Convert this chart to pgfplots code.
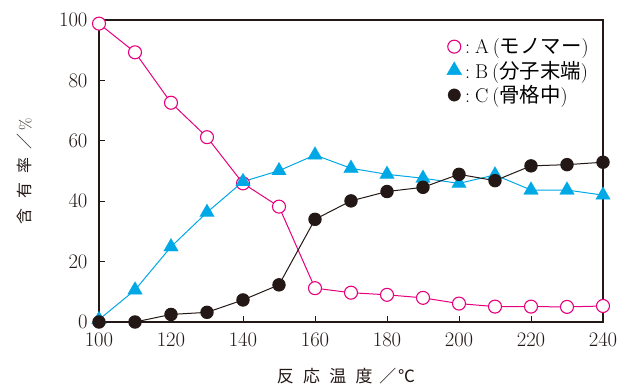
\documentclass[border=0pt]{standalone}
\usepackage{pgfplots}
\pgfplotsset{compat=1.18}
\usepackage{fontspec}
\newfontfamily\jp{Noto Sans CJK JP}
\definecolor{cA}{RGB}{230,0,126}
\definecolor{cB}{RGB}{0,168,230}
\definecolor{cC}{RGB}{35,24,21}
\begin{document}
\begin{tikzpicture}
\begin{axis}[
  scale only axis, width=504bp, height=302bp,
  xmin=100, xmax=240, ymin=0, ymax=100,
  xtick={100,120,...,240}, ytick={0,20,...,100},
  tick align=inside, xtick pos=bottom, ytick pos=left,
  major tick length=6bp,
  axis line style={line width=2.4bp, color=cC},
  tick style={line width=1bp, color=cC},
  every tick label/.style={font=\fontsize{20}{24}\selectfont, color=cC},
  yticklabel style={xshift=-8bp},
  xticklabel style={yshift=-8bp},
  clip=false,
  xlabel={\jp\fontsize{17}{20}\selectfont 反\hspace{0.55em}応\hspace{0.55em}温\hspace{0.55em}度\hspace{0.4em}／\hspace{0.1em}℃},
  ylabel={{\jp\fontsize{16}{20}\selectfont 含\hspace{0.6em}有\hspace{0.6em}率\hspace{0.5em}／}\hspace{0.3em}{\fontsize{16}{20}\selectfont\%}},
  xlabel style={at={(axis description cs:0.49,-0.18)}, anchor=center, color=cC},
  ylabel style={at={(axis description cs:-0.147,0.5)}, anchor=center, rotate=0, color=cC},
  legend style={draw=none, fill=none, at={(axis description cs:0.975,0.945)}, anchor=north east,
    font=\fontsize{20}{22}\selectfont, row sep=3bp, inner sep=0pt,
    nodes={inner sep=1.5bp}},
  legend cell align=left,
]
\coordinate (O) at (rel axis cs:0,0);
\coordinate (T) at (rel axis cs:1,1);
% A
\addplot[color=cA, line width=1bp, mark=*, mark size=6.5bp,
  mark options={fill=white, draw=cA, line width=1.1bp}, forget plot]
  coordinates {(100,98.8) (110,89.3) (120,72.6) (130,61.2) (140,45.9) (150,38.2) (160,11.2)
   (170,9.7) (180,9.0) (190,8.0) (200,6.1) (210,5.1) (220,5.1) (230,5.0) (240,5.3)};
% B
\addplot[color=cB, line width=1bp, mark=triangle*, mark size=8.5bp,
  mark options={fill=cB, draw=cB, line width=0.1bp}, forget plot]
  coordinates {(100,0.8) (110,10.6) (120,24.9) (130,36.3) (140,46.5) (150,50.1) (160,55.3)
   (170,50.9) (180,48.9) (190,47.6) (200,45.9) (210,48.7) (220,43.7) (230,43.7) (240,42.0)};
% C
\addplot[color=cC, line width=1bp, mark=*, mark size=6.2bp,
  mark options={fill=cC, draw=cC}, forget plot]
  coordinates {(100,0) (110,0) (120,2.5) (130,3.2) (140,7.3) (150,12.3) (160,34.0)
   (170,40.1) (180,43.2) (190,44.6) (200,48.9) (210,46.8) (220,51.7) (230,52.1) (240,52.9)};
\addlegendimage{only marks, mark=*, mark size=6.5bp, mark options={fill=white, draw=cA, line width=1.1bp}}
\addlegendentry{\hspace{2bp}:\hspace{5bp}A\hspace{4bp}({\jp\fontsize{20.5}{22}\selectfont モノマー})}
\addlegendimage{only marks, mark=triangle*, mark size=8.5bp, mark options={fill=cB, draw=cB}}
\addlegendentry{\hspace{2bp}:\hspace{5bp}B\hspace{4bp}({\jp\fontsize{20.5}{22}\selectfont 分子末端})}
\addlegendimage{only marks, mark=*, mark size=6.2bp, mark options={fill=cC, draw=cC}}
\addlegendentry{\hspace{2bp}:\hspace{5bp}C\hspace{4bp}({\jp\fontsize{20.5}{22}\selectfont 骨格中})}
\end{axis}
\pgfresetboundingbox
\path[use as bounding box] ([shift={(-99bp,-63bp)}]O) rectangle ([shift={(21bp,20bp)}]T);
\end{tikzpicture}
\end{document}
